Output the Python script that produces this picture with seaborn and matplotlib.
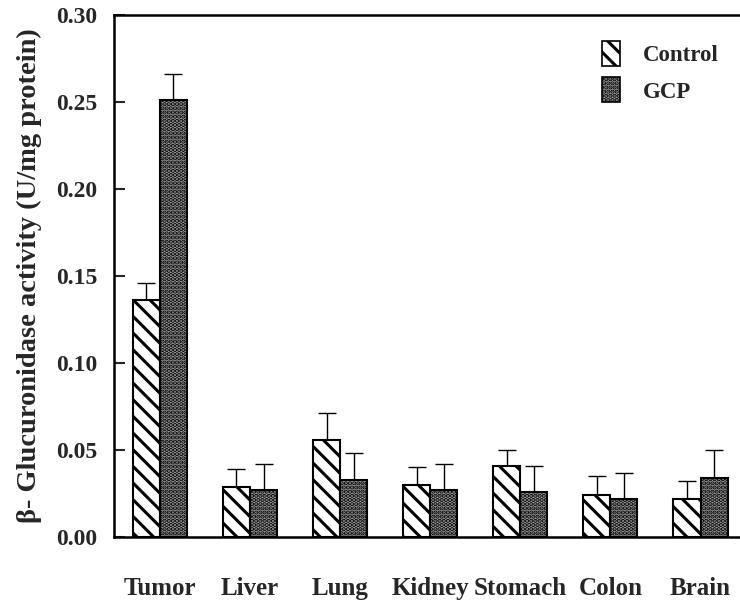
import numpy as np
import pandas as pd
import matplotlib
matplotlib.use("Agg")
import matplotlib.pyplot as plt
import seaborn as sns

TISSUES = ["Tumor", "Liver", "Lung", "Kidney", "Stomach", "Colon", "Brain"]
CONTROL = [0.136, 0.029, 0.056, 0.030, 0.041, 0.024, 0.022]
CONTROL_ERR = [0.010, 0.010, 0.015, 0.010, 0.009, 0.011, 0.010]
GCP = [0.251, 0.027, 0.033, 0.027, 0.026, 0.022, 0.034]
GCP_ERR = [0.015, 0.015, 0.015, 0.015, 0.015, 0.015, 0.016]
GROUPS = ["Control", "GCP"]

sns.set_theme(style="white")
plt.rcParams["font.family"] = ["Liberation Serif", "DejaVu Serif"]
plt.rcParams["font.weight"] = "bold"
plt.rcParams["hatch.linewidth"] = 2.2

df = pd.DataFrame({
    "tissue": TISSUES * 2,
    "group": ["Control"] * len(TISSUES) + ["GCP"] * len(TISSUES),
    "value": CONTROL + GCP,
})

fig = plt.figure(figsize=(7.4, 6.01), dpi=100)
ax = fig.add_axes([0.154, 0.1065, 0.845, 0.8685])

sns.barplot(data=df, x="tissue", y="value", hue="group", order=TISSUES,
            hue_order=GROUPS, palette=["white", "#a0a0a0"], width=0.6,
            edgecolor="black", linewidth=1.5, errorbar=None, ax=ax)

hatches = ["\\\\", "...."]
errs = [CONTROL_ERR, GCP_ERR]
for cont, hatch, err in zip(ax.containers, hatches, errs):
    xs, ys = [], []
    for bar in cont:
        bar.set_hatch(hatch)
        xs.append(bar.get_x() + bar.get_width() / 2)
        ys.append(bar.get_height())
    ax.errorbar(xs, ys, yerr=[np.zeros(len(err)), err], fmt="none",
                ecolor="black", elinewidth=1.0, capsize=6.5, capthick=1.0,
                zorder=0)

ax.set_xlim(-0.51, 6.43)
ax.set_ylim(0, 0.30)
ticks = np.arange(0, 0.31, 0.05)
ax.set_yticks(ticks)
ax.set_yticklabels([f"{v:.2f}" for v in ticks], fontsize=17, fontweight="bold")
ax.set_xticks(range(len(TISSUES)))
ax.set_xticklabels(TISSUES, fontsize=18, fontweight="bold")
ax.tick_params(axis="x", length=0, pad=29)
ax.tick_params(axis="y", direction="in", length=8, width=1.5, left=True, pad=12)
ax.set_xlabel("")
ax.set_ylabel("β- Glucuronidase activity (U/mg protein)", fontsize=20.5,
              fontweight="bold", labelpad=10)

for side in ["left", "bottom", "top"]:
    ax.spines[side].set_linewidth(1.8)
    ax.spines[side].set_color("black")
ax.spines["right"].set_visible(False)

leg = ax.legend(loc="upper right", bbox_to_anchor=(1.0, 0.99), frameon=False,
                prop={"size": 16.5, "weight": "bold"}, handlelength=0.8,
                handleheight=1.3, handletextpad=1.0, labelspacing=0.5)
for handle, hatch in zip(leg.legend_handles, hatches):
    handle.set_hatch(hatch)
    handle.set_linewidth(1.2)

fig.savefig("out.png", dpi=100)
